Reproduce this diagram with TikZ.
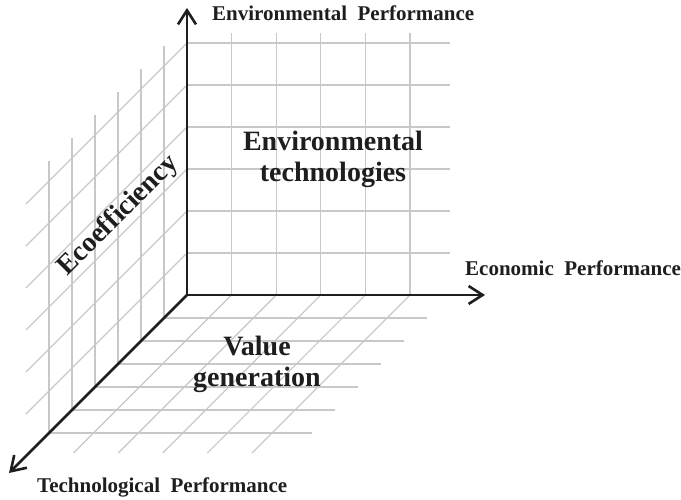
\documentclass[tikz,border=0pt]{standalone}
\usepackage{fontspec}
\setmainfont{Liberation Serif}
\usetikzlibrary{arrows.meta}
\definecolor{GridGray}{RGB}{200,200,200}
\definecolor{AxisInk}{RGB}{30,30,30}

\begin{document}
\begin{tikzpicture}[x=1pt,y=1pt,
  gridline/.style={GridGray,line width=1.2pt},
  axis/.style={AxisInk,line width=2.6pt},
  tip/.tip={Straight Barb[length=14pt,width=18pt]},
  axislabel/.style={AxisInk,inner sep=0pt,font=\bfseries\fontsize{21}{25}\selectfont},
  zonelabel/.style={AxisInk,inner sep=0pt,align=center,font=\bfseries\fontsize{28}{31}\selectfont}]
  \useasboundingbox (-187,-205) rectangle (494,295);
  % back wall (economic / environmental)
  \foreach \i in {1,...,5}
    \draw[gridline] (44.6*\i,0) -- (44.6*\i,262);
  \foreach \j in {1,...,6}
    \draw[gridline] (0,42*\j) -- (263,42*\j);
  % side wall (technological / environmental)
  \foreach \k in {1,...,6}
    \draw[gridline] (-23*\k,-23*\k) -- (-23*\k,272-23*\k);
  \foreach \j in {1,...,6}
    \draw[gridline] (0,42*\j) -- (-161,42*\j-161);
  % floor (economic / technological)
  \foreach \k in {1,...,6}
    \draw[gridline] (-23*\k,-23*\k) -- (263-23*\k,-23*\k);
  \foreach \i in {1,...,5}
    \draw[gridline] (44.6*\i,0) -- (44.6*\i-158,-158);
  % axes
  \coordinate (O) at (0,0);
  \coordinate (env) at (0,287);
  \coordinate (eco) at (298,0);
  \coordinate (tech) at (-178,-178);
  \draw[axis,tip-tip] (env) -- (O) -- (eco);
  \draw[axis,-tip] (O) -- (tech);
  % labels (base = last line for the two-line ones)
  \node[axislabel,anchor=base west] (envlabel) at (25,274) {Environmental\ \ Performance};
  \node[axislabel,anchor=base west] (ecolabel) at (278,19) {Economic\ \ Performance};
  \node[axislabel,anchor=base west] (techlabel) at (-150,-198) {Technological\ \ Performance};
  \node[zonelabel,anchor=base] (envtech) at (146,113) {Environmental\\technologies};
  \node[zonelabel,anchor=base] (valgen) at (70,-92) {Value\\generation};
  \node[zonelabel,anchor=base west,rotate=45] (ecoeff) at (-120,18) {Ecoefficiency};
\end{tikzpicture}
\end{document}
